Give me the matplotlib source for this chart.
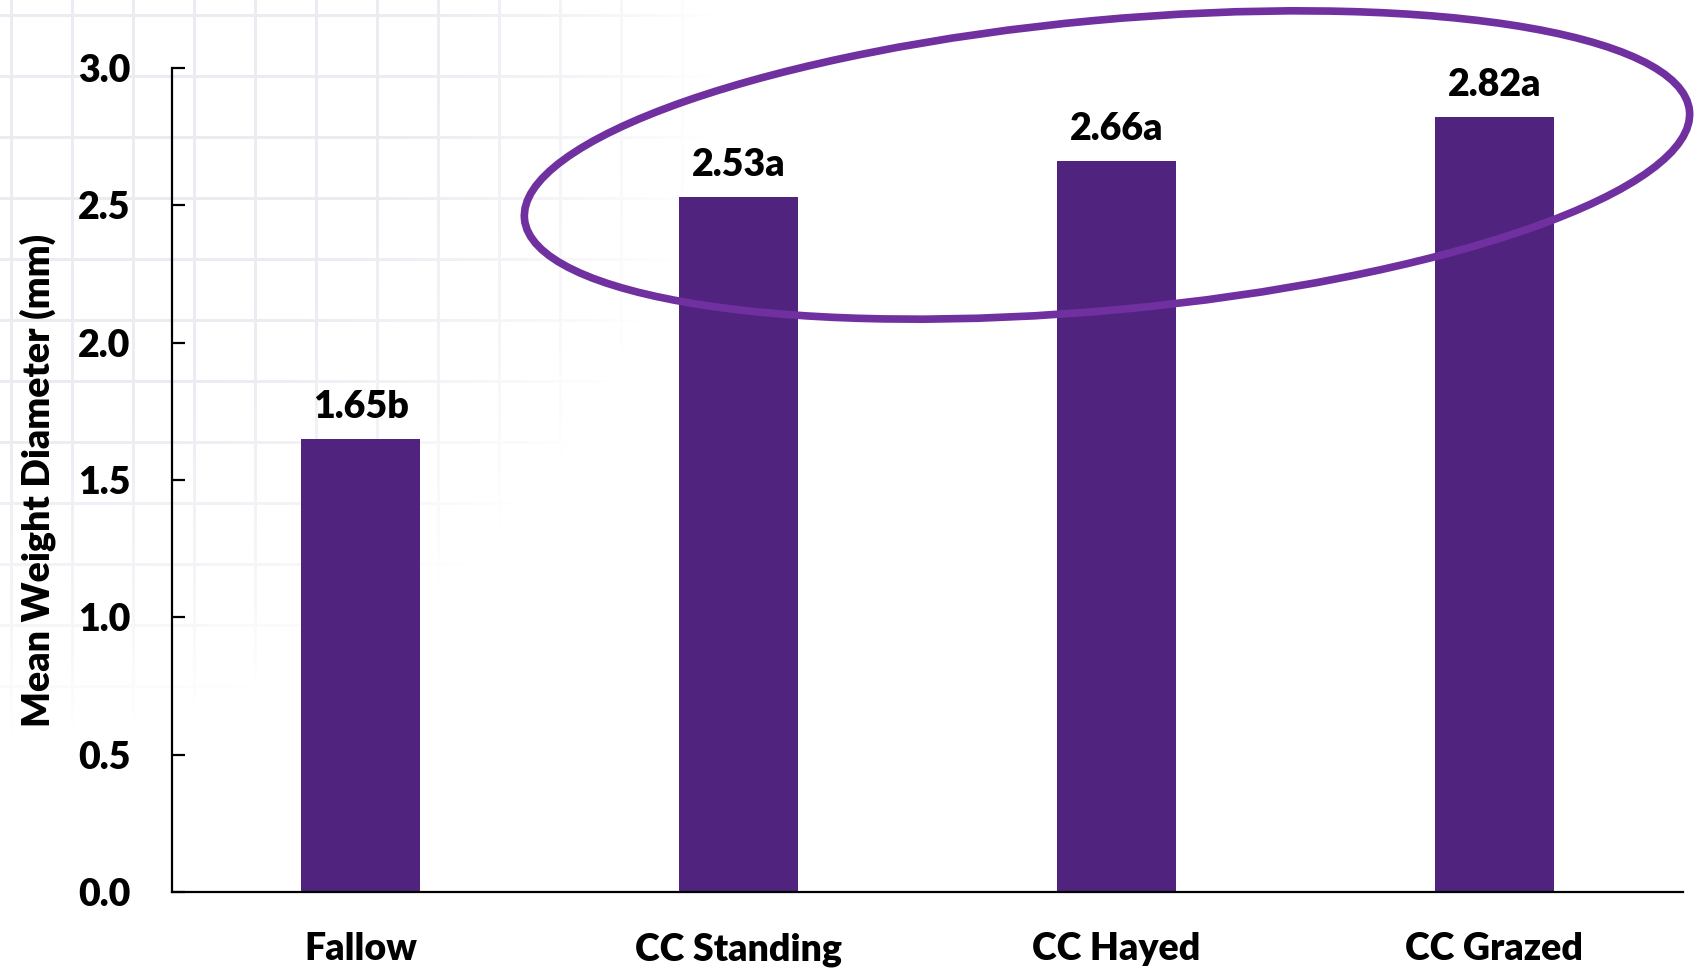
import numpy as np
import matplotlib
matplotlib.use("Agg")
import matplotlib.pyplot as plt
from matplotlib.patches import Ellipse

# Mean weight diameter per treatment
categorias = ["Fallow", "CC Standing", "CC Hayed", "CC Grazed"]
mwd = [1.65, 2.53, 2.66, 2.82]
letras = ["b", "a", "a", "a"]
y_ticks = [0.0, 0.5, 1.0, 1.5, 2.0, 2.5, 3.0]

cor_barra = "#50237f"
cor_elipse = "#7030a0"

plt.rcParams["font.family"] = ["Lato", "DejaVu Sans"]
peso = "heavy"

W, H, dpi = 1697, 968, 100
fig = plt.figure(figsize=(W / dpi, H / dpi), dpi=dpi)

# Papel quadriculado esmaecido no canto superior esquerdo
img = np.zeros((H, W, 4))
yy, xx = np.mgrid[0:H, 0:W]
passo = 61
linhas = ((xx - 10) % passo < 3) | ((yy - 14) % passo < 3)
fade = 1 - (xx / 720.0) ** 2 - (yy / 740.0) ** 2
fade = np.clip(fade * 1.5, 0, 1) * 0.55
img[..., :3] = np.array([0.86, 0.86, 0.91])
img[..., 3] = np.where(linhas, fade, 0.0)
fig.figimage(img, xo=0, yo=0, origin="upper", zorder=0)

ax = fig.add_axes([0.1014, 0.0785, 0.8904, 0.8513])
ax.set_zorder(1)
ax.patch.set_alpha(0)

x = np.arange(len(categorias))
ax.bar(x, mwd, width=0.315, color=cor_barra, zorder=2)

for xi, v, l in zip(x, mwd, letras):
    ax.annotate(f"{v:.2f}{l}", (xi, v), xytext=(0, 11), textcoords="offset points",
                ha="center", va="bottom", fontsize=27, fontweight=peso)

ax.set_xlim(-0.5, len(categorias) - 0.5)
ax.set_ylim(0, 3.0)
ax.set_yticks(y_ticks)
ax.set_yticklabels([f"{t:.1f}" for t in y_ticks], fontweight=peso)
ax.set_xticks(x)
ax.set_xticklabels(categorias, fontweight=peso)

ax.tick_params(axis="y", direction="in", length=9, width=1.6, pad=30, labelsize=27)
ax.tick_params(axis="x", length=0, pad=29, labelsize=27)
for s in ["top", "right"]:
    ax.spines[s].set_visible(False)
for s in ["left", "bottom"]:
    ax.spines[s].set_linewidth(1.6)

ax.set_ylabel("Mean Weight Diameter (mm)", fontsize=27, fontweight=peso, labelpad=16)

# Destaque dos tratamentos com plantas de cobertura
elipse = Ellipse((11.07, 8.03), 11.70, 2.90, angle=5.3, fill=False,
                 edgecolor=cor_elipse, linewidth=5.5,
                 transform=fig.dpi_scale_trans, zorder=5)
fig.add_artist(elipse)

fig.savefig("out.png", dpi=dpi)
